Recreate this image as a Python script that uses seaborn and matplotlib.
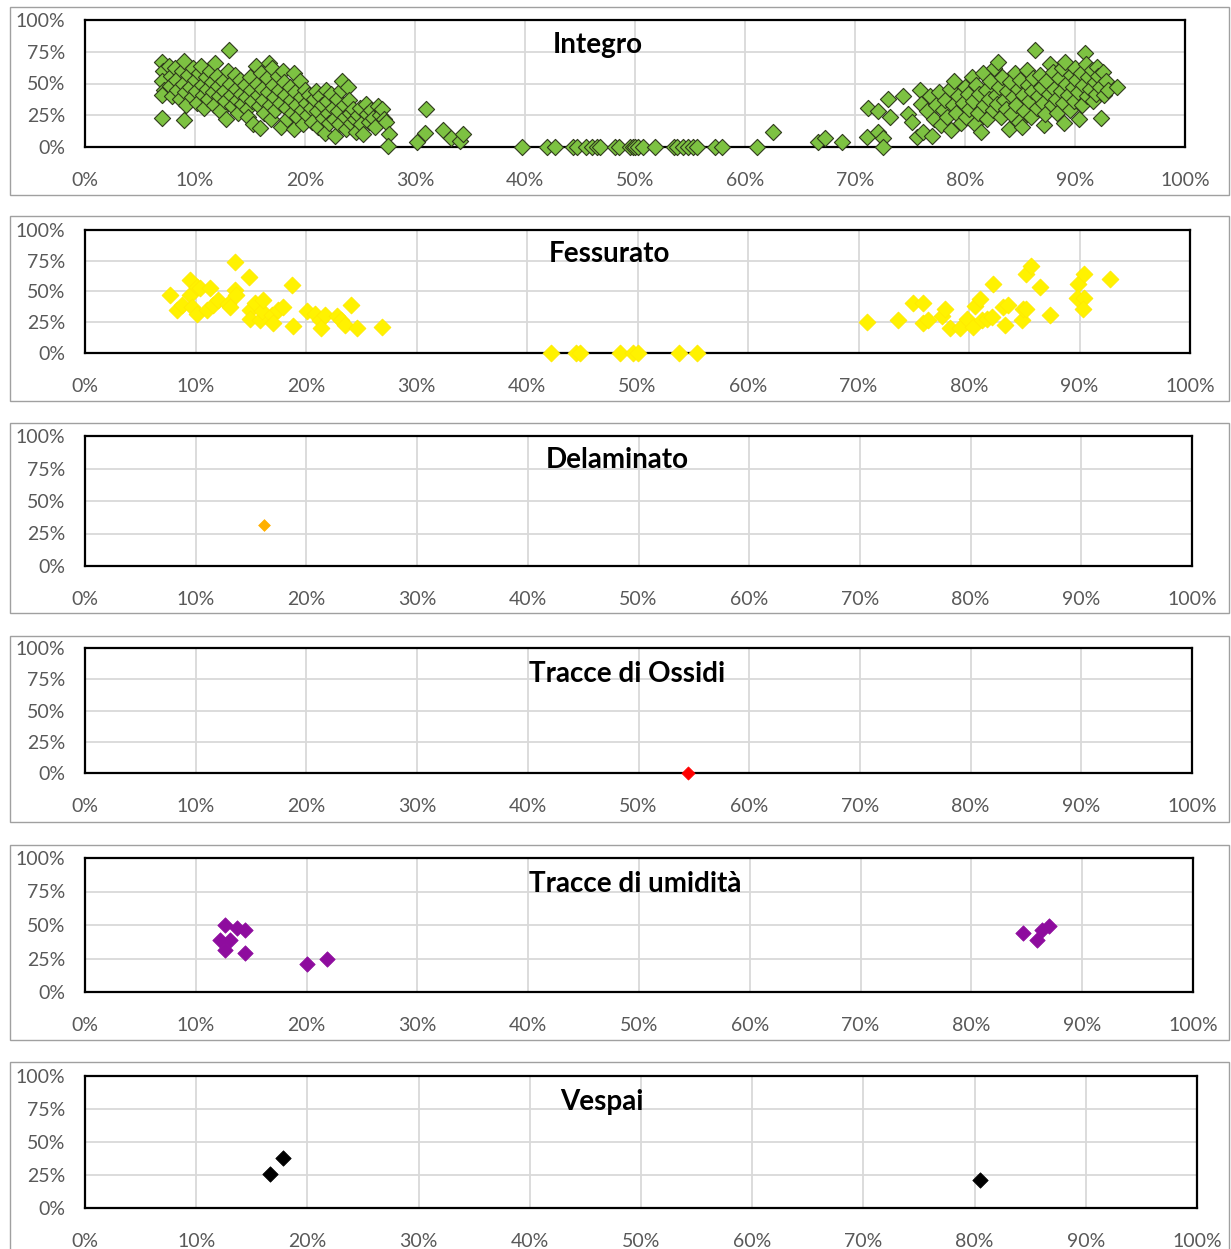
import numpy as np
import pandas as pd
import matplotlib
matplotlib.use("Agg")
import matplotlib.pyplot as plt
from matplotlib.patches import Rectangle
from matplotlib.ticker import PercentFormatter
import seaborn as sns

# ---------------- data ----------------
integro_x = [
    0.070, 0.071, 0.070, 0.072, 0.070, 0.070, 0.076, 0.078, 0.077, 0.079, 0.082, 0.083, 0.084, 0.086,
    0.088, 0.090, 0.089, 0.091, 0.092, 0.090, 0.094, 0.095, 0.097, 0.098, 0.100, 0.101, 0.102, 0.104,
    0.105, 0.106, 0.107, 0.108, 0.110, 0.111, 0.112, 0.114, 0.115, 0.116, 0.117, 0.118, 0.120, 0.121,
    0.122, 0.123, 0.125, 0.126, 0.127, 0.128, 0.130, 0.131, 0.132, 0.133, 0.134, 0.136, 0.137, 0.138,
    0.139, 0.141, 0.142, 0.143, 0.145, 0.146, 0.147, 0.148, 0.150, 0.151, 0.152, 0.153, 0.155, 0.156,
    0.157, 0.158, 0.159, 0.160, 0.161, 0.162, 0.163, 0.165, 0.166, 0.167, 0.168, 0.169, 0.170, 0.171,
    0.172, 0.173, 0.175, 0.176, 0.177, 0.178, 0.180, 0.181, 0.182, 0.183, 0.184, 0.186, 0.187, 0.188,
    0.190, 0.190, 0.191, 0.192, 0.193, 0.195, 0.196, 0.197, 0.198, 0.200, 0.201, 0.202, 0.204, 0.205,
    0.206, 0.208, 0.210, 0.211, 0.212, 0.214, 0.215, 0.216, 0.218, 0.219, 0.220, 0.221, 0.222, 0.224,
    0.225, 0.226, 0.227, 0.229, 0.230, 0.231, 0.233, 0.234, 0.235, 0.236, 0.237, 0.239, 0.240, 0.241,
    0.242, 0.244, 0.245, 0.246, 0.248, 0.250, 0.251, 0.253, 0.255, 0.256, 0.258, 0.260, 0.262, 0.264,
    0.266, 0.268, 0.270, 0.272, 0.274, 0.276, 0.275, 0.302, 0.309, 0.310, 0.325, 0.333, 0.341, 0.344,
    0.397, 0.420, 0.427, 0.444, 0.447, 0.455, 0.461, 0.465, 0.468, 0.482, 0.485, 0.495, 0.498, 0.500,
    0.503, 0.507, 0.518, 0.535, 0.538, 0.544, 0.548, 0.553, 0.556, 0.573, 0.579, 0.611, 0.625,
    0.666, 0.673, 0.688, 0.711, 0.712, 0.721, 0.721, 0.725, 0.725, 0.730, 0.732, 0.744, 0.748, 0.752,
    0.756, 0.759, 0.760, 0.762, 0.765, 0.768, 0.770, 0.772, 0.774, 0.776, 0.778, 0.780, 0.782, 0.784,
    0.786, 0.787, 0.789, 0.790, 0.792, 0.794, 0.796, 0.798, 0.800, 0.801, 0.803, 0.804, 0.806, 0.807,
    0.809, 0.810, 0.812, 0.813, 0.815, 0.816, 0.817, 0.819, 0.820, 0.822, 0.823, 0.825, 0.826, 0.828,
    0.829, 0.830, 0.831, 0.833, 0.834, 0.835, 0.837, 0.838, 0.840, 0.841, 0.842, 0.844, 0.845, 0.846,
    0.848, 0.849, 0.850, 0.852, 0.853, 0.854, 0.856, 0.857, 0.858, 0.860, 0.861, 0.862, 0.864, 0.865,
    0.866, 0.868, 0.869, 0.871, 0.872, 0.873, 0.874, 0.876, 0.877, 0.879, 0.880, 0.881, 0.883, 0.884,
    0.885, 0.887, 0.888, 0.889, 0.890, 0.891, 0.892, 0.894, 0.895, 0.896, 0.898, 0.899, 0.900, 0.901,
    0.903, 0.904, 0.905, 0.906, 0.907, 0.909, 0.910, 0.911, 0.912, 0.914, 0.915, 0.916, 0.918, 0.919,
    0.920, 0.921, 0.923, 0.924, 0.925, 0.926, 0.928, 0.930, 0.938,
]
integro_y = [
    0.67, 0.60, 0.52, 0.45, 0.41, 0.23, 0.64, 0.56, 0.48, 0.40, 0.62, 0.53, 0.45, 0.38,
    0.60, 0.68, 0.50, 0.43, 0.33, 0.21, 0.57, 0.47, 0.39, 0.62, 0.53, 0.44, 0.35, 0.58,
    0.64, 0.49, 0.41, 0.31, 0.55, 0.46, 0.38, 0.60, 0.51, 0.43, 0.33, 0.66, 0.56, 0.48,
    0.40, 0.28, 0.52, 0.44, 0.36, 0.22, 0.60, 0.76, 0.50, 0.41, 0.32, 0.57, 0.46, 0.37,
    0.27, 0.53, 0.42, 0.34, 0.49, 0.39, 0.30, 0.24, 0.55, 0.45, 0.36, 0.18, 0.64, 0.50,
    0.41, 0.32, 0.15, 0.58, 0.46, 0.37, 0.27, 0.54, 0.43, 0.66, 0.33, 0.22, 0.62, 0.49,
    0.39, 0.29, 0.56, 0.45, 0.35, 0.16, 0.60, 0.51, 0.41, 0.31, 0.22, 0.47, 0.37, 0.27,
    0.58, 0.14, 0.43, 0.33, 0.24, 0.52, 0.39, 0.29, 0.18, 0.45, 0.35, 0.25, 0.41, 0.31,
    0.20, 0.38, 0.44, 0.28, 0.16, 0.40, 0.33, 0.23, 0.11, 0.45, 0.36, 0.27, 0.19, 0.42,
    0.31, 0.22, 0.09, 0.38, 0.28, 0.18, 0.45, 0.52, 0.33, 0.24, 0.14, 0.47, 0.37, 0.27,
    0.19, 0.30, 0.22, 0.12, 0.25, 0.31, 0.18, 0.10, 0.34, 0.26, 0.20, 0.29, 0.23, 0.16,
    0.32, 0.25, 0.30, 0.22, 0.20, 0.10, 0.01, 0.04, 0.11, 0.30, 0.13, 0.07, 0.05, 0.10,
    0.0, 0.0, 0.0, 0.0, 0.0, 0.0, 0.0, 0.0, 0.0, 0.0, 0.0, 0.0, 0.0, 0.0,
    0.0, 0.0, 0.0, 0.0, 0.0, 0.0, 0.0, 0.0, 0.0, 0.0, 0.0, 0.0, 0.12,
    0.04, 0.07, 0.04, 0.08, 0.31, 0.28, 0.12, 0.07, 0.00, 0.38, 0.24, 0.40, 0.26, 0.20,
    0.08, 0.45, 0.34, 0.12, 0.28, 0.40, 0.09, 0.22, 0.33, 0.43, 0.17, 0.29, 0.37, 0.24,
    0.46, 0.13, 0.33, 0.52, 0.27, 0.40, 0.19, 0.35, 0.47, 0.24, 0.42, 0.30, 0.55, 0.36,
    0.18, 0.49, 0.27, 0.42, 0.12, 0.58, 0.33, 0.45, 0.22, 0.38, 0.52, 0.29, 0.62, 0.41,
    0.34, 0.67, 0.47, 0.24, 0.55, 0.37, 0.30, 0.44, 0.14, 0.51, 0.26, 0.39, 0.58, 0.33,
    0.46, 0.20, 0.53, 0.16, 0.41, 0.28, 0.61, 0.49, 0.36, 0.24, 0.44, 0.54, 0.76, 0.31,
    0.40, 0.57, 0.47, 0.35, 0.17, 0.26, 0.52, 0.42, 0.65, 0.33, 0.59, 0.46, 0.38, 0.27,
    0.54, 0.44, 0.62, 0.35, 0.19, 0.67, 0.50, 0.41, 0.29, 0.57, 0.47, 0.36, 0.62, 0.53,
    0.43, 0.22, 0.58, 0.33, 0.49, 0.74, 0.65, 0.40, 0.55, 0.46, 0.61, 0.36, 0.51, 0.42,
    0.63, 0.56, 0.47, 0.23, 0.59, 0.41, 0.52, 0.45, 0.47,
]

fessurato_x = [
    0.077, 0.083, 0.088, 0.095, 0.095, 0.097, 0.101, 0.101, 0.104, 0.110, 0.113, 0.116, 0.120,
    0.129, 0.131, 0.136, 0.136, 0.137, 0.148, 0.149, 0.149, 0.154, 0.158, 0.160, 0.161, 0.169,
    0.170, 0.175, 0.179, 0.187, 0.188, 0.201, 0.208, 0.213, 0.214, 0.217, 0.228, 0.232, 0.235,
    0.241, 0.246, 0.269,
    0.422, 0.444, 0.448, 0.484, 0.496, 0.500, 0.538, 0.554,
    0.708, 0.736, 0.749, 0.758, 0.758, 0.763, 0.776, 0.778, 0.783, 0.792, 0.798, 0.804, 0.805,
    0.810, 0.812, 0.816, 0.821, 0.822, 0.831, 0.833, 0.835, 0.848, 0.849, 0.852, 0.852, 0.856,
    0.864, 0.873, 0.899, 0.898, 0.904, 0.904, 0.903, 0.928,
]
fessurato_y = [
    0.47, 0.35, 0.39, 0.59, 0.47, 0.37, 0.54, 0.32, 0.53, 0.35, 0.53, 0.39, 0.43,
    0.40, 0.37, 0.74, 0.51, 0.47, 0.62, 0.35, 0.28, 0.41, 0.27, 0.34, 0.43, 0.31,
    0.24, 0.35, 0.37, 0.55, 0.22, 0.34, 0.32, 0.27, 0.20, 0.31, 0.30, 0.27, 0.23,
    0.39, 0.20, 0.21,
    0.0, 0.0, 0.0, 0.0, 0.0, 0.0, 0.0, 0.0,
    0.25, 0.27, 0.41, 0.41, 0.24, 0.27, 0.30, 0.36, 0.20, 0.20, 0.28, 0.21, 0.38,
    0.44, 0.27, 0.28, 0.29, 0.56, 0.37, 0.23, 0.39, 0.27, 0.36, 0.36, 0.64, 0.71,
    0.54, 0.31, 0.56, 0.45, 0.64, 0.45, 0.36, 0.60,
]

delaminato_x = [0.162]
delaminato_y = [0.315]

ossidi_x = [0.545]
ossidi_y = [0.0]

umidita_x = [0.122, 0.126, 0.126, 0.131, 0.137, 0.144, 0.144, 0.200, 0.218,
             0.847, 0.859, 0.864, 0.870]
umidita_y = [0.39, 0.50, 0.31, 0.39, 0.48, 0.46, 0.29, 0.21, 0.25,
             0.44, 0.39, 0.46, 0.49]

vespai_x = [0.166, 0.178, 0.805]
vespai_y = [0.26, 0.38, 0.21]

titles = ["Integro", "Fessurato", "Delaminato", "Tracce di Ossidi", "Tracce di umidità", "Vespai"]
x_ticks = [0.0, 0.1, 0.2, 0.3, 0.4, 0.5, 0.6, 0.7, 0.8, 0.9, 1.0]
y_ticks = [0.0, 0.25, 0.5, 0.75, 1.0]

# ---------------- style ----------------
sns.set_style("white")
plt.rcParams['font.family'] = ['Lato', 'DejaVu Sans']

W, H = 1231, 1249
fig = plt.figure(figsize=(W / 100, H / 100), dpi=100)

# (left, top, right, bottom) of plot areas in pixels
plot_boxes = [
    (85, 20, 1185, 147),
    (85, 230, 1190, 353),
    (85, 436, 1192, 566),
    (85, 648, 1192, 773),
    (85, 858, 1193, 992),
    (85, 1076, 1197, 1208),
]
# outer frames (top, bottom) in pixels
frames = [(7, 195), (216, 401), (423, 613), (636, 822), (845, 1040), (1062, 1252)]
# title centres in pixels
title_pos = [(598, 45), (609, 254), (617, 460), (627, 674), (635, 884), (602, 1102)]

series = [
    (integro_x, integro_y, dict(color="#7DC242", edgecolor="#2f3a1c", linewidth=0.8, s=68)),
    (fessurato_x, fessurato_y, dict(color="#FFF200", edgecolor="#FFE800", linewidth=0.5, s=75)),
    (delaminato_x, delaminato_y, dict(color="#FFB000", edgecolor="#FFB000", linewidth=0.5, s=36)),
    (ossidi_x, ossidi_y, dict(color="#FF0000", edgecolor="#FF0000", linewidth=0.5, s=45)),
    (umidita_x, umidita_y, dict(color="#8E0C9E", edgecolor="#8E0C9E", linewidth=0.5, s=62)),
    (vespai_x, vespai_y, dict(color="#000000", edgecolor="#000000", linewidth=0.5, s=62)),
]

for (l, t, r, b), (ft, fb), (tx, ty), title, (xs, ys, kw) in zip(plot_boxes, frames, title_pos, titles, series):
    # outer frame
    fig.patches.append(Rectangle((10 / W, 1 - fb / H), (1229 - 10) / W, (fb - ft) / H,
                                 transform=fig.transFigure, fill=False,
                                 edgecolor="#a0a0a0", linewidth=1.0, zorder=0))
    ax = fig.add_axes([l / W, 1 - b / H, (r - l) / W, (b - t) / H])
    df = pd.DataFrame({"x": xs, "y": ys})
    sns.scatterplot(data=df, x="x", y="y", marker="D", ax=ax, clip_on=False, zorder=5, legend=False, **kw)
    ax.set_xlim(0, 1)
    ax.set_ylim(0, 1)
    ax.set_xticks(x_ticks)
    ax.set_yticks(y_ticks)
    ax.xaxis.set_major_formatter(PercentFormatter(1.0, decimals=0))
    ax.yaxis.set_major_formatter(PercentFormatter(1.0, decimals=0))
    ax.set_xlabel("")
    ax.set_ylabel("")
    ax.grid(True, color="#d9d9d9", linewidth=1.3)
    ax.set_axisbelow(True)
    ax.tick_params(axis="x", length=0, pad=18, labelsize=14, labelcolor="#595959")
    ax.tick_params(axis="y", length=0, pad=14, labelsize=14, labelcolor="#595959")
    for sp in ax.spines.values():
        sp.set_visible(True)
        sp.set_color("black")
        sp.set_linewidth(1.6)
    fig.text(tx / W, 1 - ty / H, title, ha="center", va="center",
             fontsize=20, fontweight="bold", color="black", zorder=10)

fig.savefig("out.png", dpi=100, facecolor="white")
